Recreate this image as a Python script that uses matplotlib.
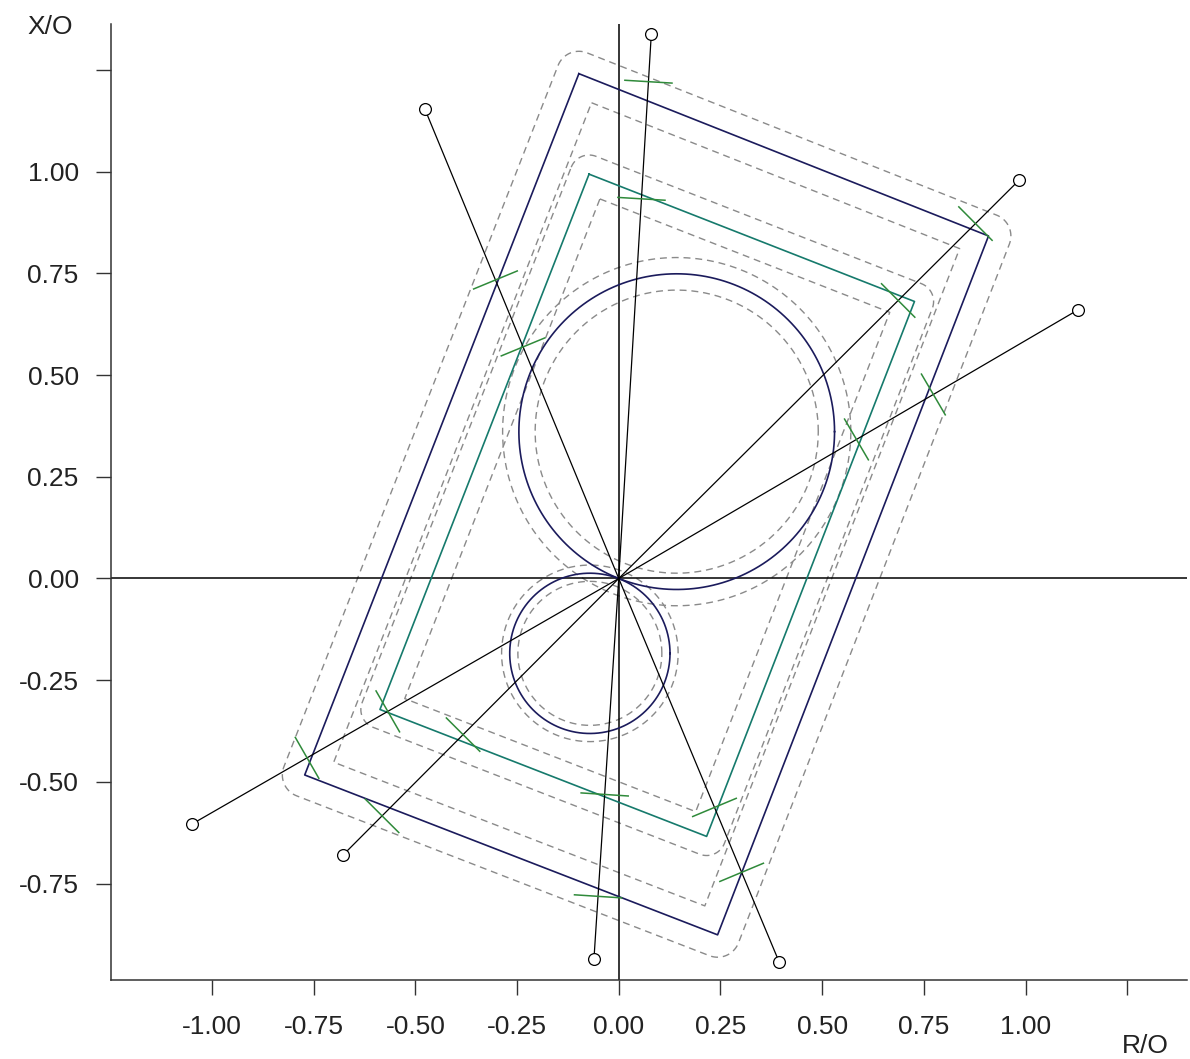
import numpy as np
import matplotlib
matplotlib.use("Agg")
import matplotlib.pyplot as plt

plt.rcParams['font.family'] = ['Liberation Sans', 'DejaVu Sans']

# ---------------- data (R/O, X/O plane) ----------------
outer_zone = np.array([[-0.098, 1.241], [0.909, 0.842], [0.243, -0.876], [-0.772, -0.483]])
inner_zone = np.array([[-0.073, 0.994], [0.727, 0.681], [0.216, -0.634], [-0.587, -0.322]])
fwd_circle_center = (0.1425, 0.361)
fwd_circle_radius = 0.388
rev_circle_center = (-0.071, -0.184)
rev_circle_radius = 0.197

fault_start = [(-0.477, 1.155), (0.080, 1.338), (0.984, 0.979), (1.130, 0.661)]
fault_end = [(0.394, -0.942), (-0.061, -0.936), (-0.677, -0.679), (-1.048, -0.603)]
# tick positions along each line (distance from origin; negative = toward end point)
tick_dist = [[0.794, 0.616, -0.610, -0.783],
             [1.2235, 0.935, -0.532, -0.783],
             [1.237, 0.969, -0.542, -0.824],
             [0.896, 0.677, -0.655, -0.884]]

x_ticks = [-1.00, -0.75, -0.50, -0.25, 0.00, 0.25, 0.50, 0.75, 1.00, 1.25]
y_ticks = [-0.75, -0.50, -0.25, 0.00, 0.25, 0.50, 0.75, 1.00, 1.25]
x_label_text = "R/O"
y_label_text = "X/O"

# ---------------- styles ----------------
NAVY = "#1b1b5c"
TEAL = "#167a6c"
GREEN = "#2f8a3a"
GREY = "#8a8a8a"
outer_band = 0.055
inner_band = 0.047
fwd_band = 0.04
rev_band = 0.02
tick_half = 0.058


def edge_normals(poly):
    n = len(poly)
    area = 0.5 * sum(poly[i, 0] * poly[(i + 1) % n, 1] - poly[(i + 1) % n, 0] * poly[i, 1] for i in range(n))
    normals = []
    for i in range(n):
        d = poly[(i + 1) % n] - poly[i]
        d = d / np.hypot(*d)
        nrm = np.array([d[1], -d[0]]) if area > 0 else np.array([-d[1], d[0]])
        normals.append(nrm)
    return normals  # normals[i] belongs to edge i -> i+1 (outward)


def grow(poly, dist):
    n = len(poly)
    nr = edge_normals(poly)
    pts = []
    for i in range(n):
        n1 = nr[i - 1]
        n2 = nr[i]
        a1 = np.arctan2(n1[1], n1[0])
        a2 = np.arctan2(n2[1], n2[0])
        da = (a2 - a1 + np.pi) % (2 * np.pi) - np.pi
        for t in np.linspace(0, 1, 20):
            a = a1 + t * da
            pts.append(poly[i] + dist * np.array([np.cos(a), np.sin(a)]))
    pts.append(pts[0])
    return np.array(pts)


def shrink(poly, dist):
    n = len(poly)
    nr = edge_normals(poly)
    pts = []
    for i in range(n):
        n1 = nr[i - 1]
        n2 = nr[i]
        pts.append(poly[i] - dist * (n1 + n2) / (1 + n1 @ n2))
    pts.append(pts[0])
    return np.array(pts)


def closed(poly):
    return np.vstack([poly, poly[:1]])


fig = plt.figure(figsize=(11.9, 10.59), dpi=100)
ax = fig.add_axes([0.0930, 0.0746, 0.9045, 0.9027])
ax.set_xlim(-1.249, 1.397)
ax.set_ylim(-0.987, 1.363)

# axes through origin
ax.axhline(0, color="black", lw=1.1, zorder=2)
ax.axvline(0, color="black", lw=1.1, zorder=2)

dash = dict(color=GREY, lw=1.0, ls=(0, (5, 3.5)), zorder=1)

# quadrilateral zones with tolerance bands
for poly, col, band in [(outer_zone, NAVY, outer_band), (inner_zone, TEAL, inner_band)]:
    g = grow(poly, band)
    s = shrink(poly, band)
    ax.plot(g[:, 0], g[:, 1], **dash)
    ax.plot(s[:, 0], s[:, 1], **dash)
    c = closed(poly)
    ax.plot(c[:, 0], c[:, 1], color=col, lw=1.2, zorder=3)

# mho circles with tolerance bands
th = np.linspace(0, 2 * np.pi, 400)
for (cx, cy), r, band in [(fwd_circle_center, fwd_circle_radius, fwd_band),
                          (rev_circle_center, rev_circle_radius, rev_band)]:
    for rr in (r - band, r + band):
        ax.plot(cx + rr * np.cos(th), cy + rr * np.sin(th), **dash)
    ax.plot(cx + r * np.cos(th), cy + r * np.sin(th), color=NAVY, lw=1.2, zorder=3)

# fault lines with end markers and green ticks
for (sx, sy), (ex, ey), dists in zip(fault_start, fault_end, tick_dist):
    ax.plot([sx, 0, ex], [sy, 0, ey], color="black", lw=0.9, zorder=4)
    ax.plot([sx, ex], [sy, ey], ls="none", marker="o", ms=8.5, mfc="white",
            mec="black", mew=0.9, zorder=6)
    us = np.array([sx, sy]) / np.hypot(sx, sy)
    ue = np.array([ex, ey]) / np.hypot(ex, ey)
    for d in dists:
        u = us if d > 0 else ue
        p = abs(d) * u
        perp = np.array([-u[1], u[0]])
        a = p - tick_half * perp
        b = p + tick_half * perp
        ax.plot([a[0], b[0]], [a[1], b[1]], color=GREEN, lw=1.1, zorder=5)

# axes styling
for sp in ("top", "right"):
    ax.spines[sp].set_visible(False)
for sp in ("left", "bottom"):
    ax.spines[sp].set_color("#333333")
    ax.spines[sp].set_linewidth(1.1)

ax.set_xticks(x_ticks)
ax.set_xticklabels([f"{v:.2f}" if v < 1.2 else "" for v in x_ticks])
ax.set_yticks(y_ticks)
ax.set_yticklabels([f"{v:.2f}" if v < 1.2 else "" for v in y_ticks])
ax.tick_params(axis="both", direction="out", length=11, width=1.0, color="#333333",
               labelsize=19, labelcolor="#222222")
ax.tick_params(axis="x", pad=14)
ax.tick_params(axis="y", pad=12)

fig.text(50 / 1190, 1 - 27 / 1059, y_label_text, fontsize=19, color="#222222",
         ha="center", va="center")
fig.text(1145 / 1190, 1 - 1046 / 1059, x_label_text, fontsize=19, color="#222222",
         ha="center", va="center")

fig.savefig("out.png", dpi=100)
